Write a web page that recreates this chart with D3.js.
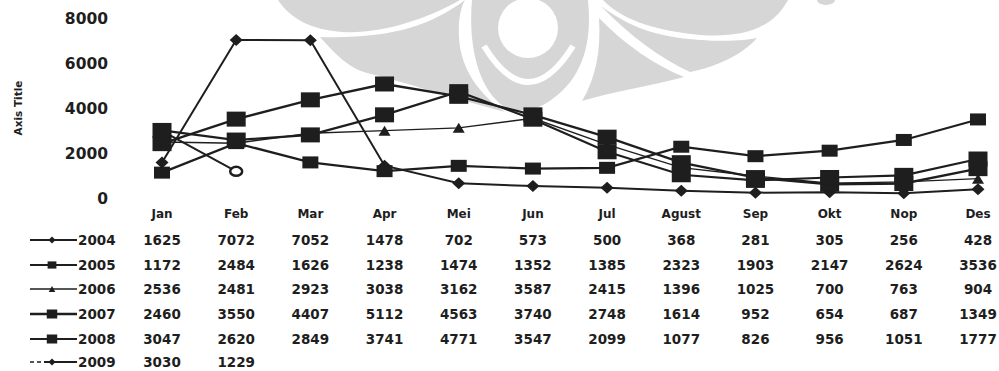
<!DOCTYPE html>
<html>
<head>
<meta charset="utf-8">
<script src="https://cdn.jsdelivr.net/npm/d3@7/dist/d3.min.js"></script>
<style>
  body { margin: 0; background: #fff; }
  svg { display: block; }
  text { font-family: "DejaVu Sans", Verdana, sans-serif; font-weight: bold; fill: #1e1e1e; }
</style>
</head>
<body>
<svg id="chart" width="999" height="371"></svg>
<script>
// data
var months = ["Jan","Feb","Mar","Apr","Mei","Jun","Jul","Agust","Sep","Okt","Nop","Des"];
var years = ["2004","2005","2006","2007","2008","2009"];
var s2004 = [1625,7072,7052,1478,702,573,500,368,281,305,256,428];
var s2005 = [1172,2484,1626,1238,1474,1352,1385,2323,1903,2147,2624,3536];
var s2006 = [2536,2481,2923,3038,3162,3587,2415,1396,1025,700,763,904];
var s2007 = [2460,3550,4407,5112,4563,3740,2748,1614,952,654,687,1349];
var s2008 = [3047,2620,2849,3741,4771,3547,2099,1077,826,956,1051,1777];
var s2009 = [3030,1229];
var yTicks = [0,2000,4000,6000,8000];

var seriesList = [
    {name:"2004", values:s2004, marker:"diamond", w:13, h:12, lw:2},
    {name:"2005", values:s2005, marker:"square", w:16, h:12, lw:2.2},
    {name:"2006", values:s2006, marker:"triangle", w:12, h:10, lw:1.4},
    {name:"2007", values:s2007, marker:"square", w:19, h:15, lw:2.4},
    {name:"2008", values:s2008, marker:"square", w:19, h:15, lw:2.2},
    {name:"2009", values:s2009, marker:"circle", w:14, h:11, lw:2}
];

var ink = "#1e1e1e";
var svg = d3.select("#chart");

// watermark (logo) behind the chart
var wm = svg.append("g").attr("class","watermark");
var grey = "#d6d6d6";
var lobes = [
    // left wing
    "M278,0 C290,18 310,30 343,32 C380,34 425,20 460,0 Z",
    "M465,0 C430,26 390,39 320,37 C336,55 350,69 367,73 C405,82 445,96 505,112 C480,95 461,70 459,38 C458,22 460,9 465,0 Z",
    // centre ring
    "M472,0 L588,0 C592,40 585,80 545,104 C530,112 515,112 503,106 C478,88 468,45 472,0 Z",
    // right wing
    "M603,0 C620,18 650,30 700,35 C740,38 772,30 788,0 Z",
    "M601,6 C628,26 655,37 700,40 C728,42 748,40 757,38 C742,55 716,67 690,72 C660,58 630,36 601,6 Z",
    "M599,18 C625,45 655,65 684,77 C650,86 615,91 582,101 C596,78 601,50 599,18 Z"
];
wm.selectAll("path.lobe")
    .data(lobes)
    .enter()
    .append("path")
    .attr("class","lobe")
    .attr("fill",grey)
    .attr("d",function(d){ return d; });
wm.append("ellipse").attr("fill",grey).attr("cx",826).attr("cy",0).attr("rx",9).attr("ry",5);
wm.append("circle").attr("fill","#fff").attr("cx",528).attr("cy",28).attr("r",30);
wm.append("path").attr("fill","none").attr("stroke","#fff").attr("stroke-width",6)
    .attr("d","M484,46 Q528,118 573,46");

// scales
var x = d3.scalePoint().domain(months).range([162, 978]);
var y = d3.scaleLinear().domain([0, 8000]).range([199, 19]);

// y axis labels (no line, no ticks)
var yAxis = d3.axisLeft(y).tickValues(yTicks).tickSize(0).tickPadding(0).tickFormat(d3.format("d"));
svg.append("g").attr("class","yaxis")
    .attr("transform","translate(108,0)")
    .call(yAxis)
    .call(function(g){ g.select(".domain").remove(); })
    .selectAll("text")
    .style("font-family","DejaVu Sans, sans-serif")
    .style("font-weight","bold")
    .style("font-size","15.5px")
    .attr("fill",ink);

svg.append("text")
    .attr("transform","translate(22,108) rotate(-90)")
    .attr("text-anchor","middle")
    .style("font-size","10.5px")
    .text("Axis Title");

// markers
function drawMarker(g, type, cx, cy, w, h){
    if(type=="square"){
        g.append("rect").attr("x",cx-w/2).attr("y",cy-h/2).attr("width",w).attr("height",h).attr("fill",ink);
    } else if(type=="diamond"){
        g.append("path").attr("d","M"+cx+","+(cy-h/2)+" L"+(cx+w/2)+","+cy+" L"+cx+","+(cy+h/2)+" L"+(cx-w/2)+","+cy+" Z").attr("fill",ink);
    } else if(type=="triangle"){
        g.append("path").attr("d","M"+cx+","+(cy-h/2)+" L"+(cx+w/2)+","+(cy+h/2)+" L"+(cx-w/2)+","+(cy+h/2)+" Z").attr("fill",ink);
    } else if(type=="circle"){
        g.append("ellipse").attr("cx",cx).attr("cy",cy).attr("rx",w/2-1).attr("ry",h/2-1)
            .attr("fill","#fff").attr("stroke",ink).attr("stroke-width",2.5);
    }
}

var line = d3.line()
    .x(function(d,i){ return x(months[i]); })
    .y(function(d){ return y(d); });

// 2009 goes underneath, its Jan point is hidden by the squares
var drawOrder = [5,0,1,2,3,4];
var plot = svg.append("g").attr("class","plot");
drawOrder.forEach(function(k){
    var s = seriesList[k];
    var g = plot.append("g").attr("class","series s"+s.name);
    g.append("path")
        .attr("d", line(s.values))
        .attr("fill","none")
        .attr("stroke",ink)
        .attr("stroke-width",s.lw);
    s.values.forEach(function(v,i){
        drawMarker(g, s.marker, x(months[i]), y(v), s.w, s.h);
    });
});

// data table
var table = svg.append("g").attr("class","datatable");
table.selectAll("text.month")
    .data(months)
    .enter()
    .append("text")
    .attr("class","month")
    .attr("x",function(d){ return x(d); })
    .attr("y",218)
    .attr("text-anchor","middle")
    .style("font-size","12px")
    .text(function(d){ return d; });

var rowY = [240, 265, 289, 314, 339, 362];
seriesList.forEach(function(s,r){
    var ry = rowY[r];
    var lg = table.append("g").attr("class","legend");
    if(s.name=="2009"){
        lg.append("line").attr("x1",30).attr("x2",44).attr("y1",ry).attr("y2",ry)
            .attr("stroke",ink).attr("stroke-width",1.5).attr("stroke-dasharray","4,3");
        lg.append("line").attr("x1",44).attr("x2",77).attr("y1",ry).attr("y2",ry)
            .attr("stroke",ink).attr("stroke-width",1.8);
    } else {
        lg.append("line").attr("x1",30).attr("x2",77).attr("y1",ry).attr("y2",ry)
            .attr("stroke",ink).attr("stroke-width",s.lw);
    }
    if(s.marker=="circle"){
        drawMarker(lg, "diamond", 52, ry, 7, 7);
    } else {
        drawMarker(lg, s.marker, 52, ry, s.w*0.55, s.h*0.6);
    }
    lg.append("text").attr("x",78).attr("y",ry+5).style("font-size","13.5px").text(s.name);

    table.selectAll("text.v"+s.name)
        .data(s.values)
        .enter()
        .append("text")
        .attr("class","v"+s.name)
        .attr("x",function(d,i){ return x(months[i]); })
        .attr("y",ry+5)
        .attr("text-anchor","middle")
        .style("font-size","13.5px")
        .text(function(d){ return d; });
});
</script>
</body>
</html>
